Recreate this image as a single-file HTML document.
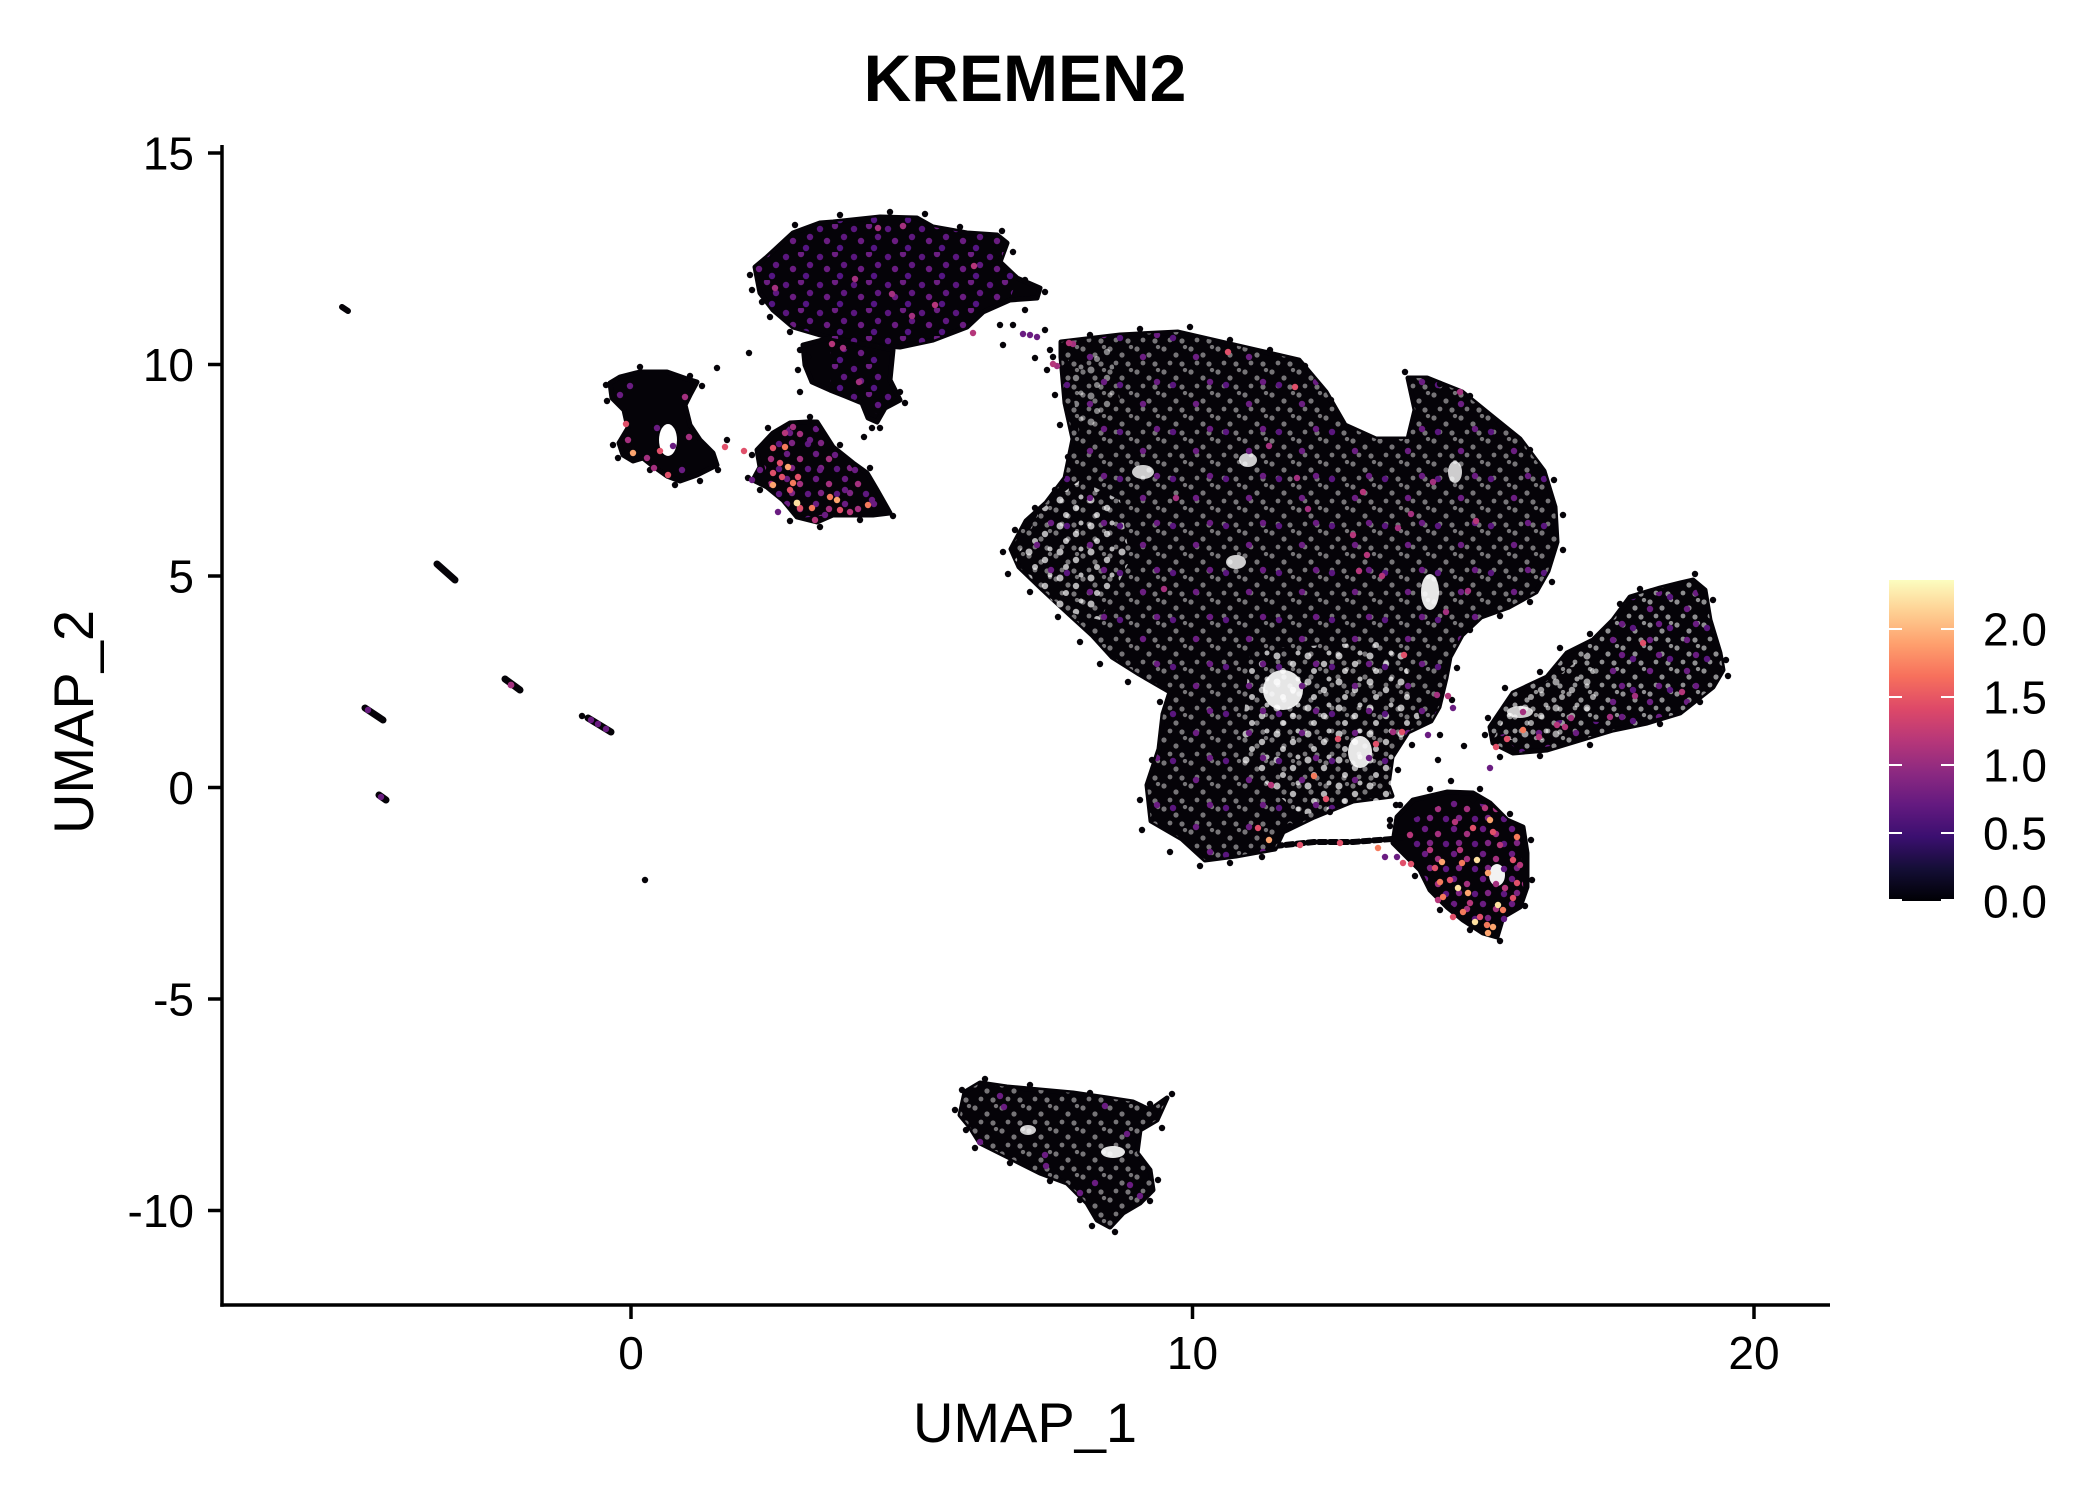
<!DOCTYPE html>
<html><head><meta charset="utf-8"><style>
html,body{margin:0;padding:0;background:#fff;}
svg{display:block;}
text{font-family:"Liberation Sans",Arial,sans-serif;fill:#000;}
</style></head><body>
<svg width="2100" height="1500" viewBox="0 0 2100 1500" xmlns="http://www.w3.org/2000/svg">
<defs>
<linearGradient id="mg" x1="0" y1="1" x2="0" y2="0">
<stop offset="0" stop-color="#000004"/><stop offset="0.1" stop-color="#140e36"/><stop offset="0.2" stop-color="#3b0f70"/><stop offset="0.3" stop-color="#641a80"/><stop offset="0.4" stop-color="#8c2981"/><stop offset="0.5" stop-color="#b73779"/><stop offset="0.6" stop-color="#de4968"/><stop offset="0.7" stop-color="#f7705c"/><stop offset="0.8" stop-color="#fe9f6d"/><stop offset="0.9" stop-color="#fecf92"/><stop offset="1" stop-color="#fcfdbf"/>
</linearGradient>
<pattern id="pTop" width="34" height="28" patternUnits="userSpaceOnUse">
<circle cx="4" cy="5" r="3.2" fill="#5a167e"/><circle cx="19" cy="2" r="3.2" fill="#6b1e81"/><circle cx="28" cy="13" r="3.2" fill="#5f187f"/><circle cx="11" cy="17" r="3.2" fill="#6a1c81"/><circle cx="24" cy="24" r="3.2" fill="#541582"/>
</pattern>
<pattern id="pBig" width="53" height="47" patternUnits="userSpaceOnUse">
<circle cx="7" cy="9" r="3.2" fill="#5a167e"/><circle cx="30" cy="28" r="3.2" fill="#6b1e81"/><circle cx="44" cy="6" r="3.2" fill="#6a1c81"/>
</pattern>
<pattern id="pArm" width="37" height="31" patternUnits="userSpaceOnUse">
<circle cx="5" cy="8" r="3.2" fill="#5a167e"/><circle cx="22" cy="20" r="3.2" fill="#6b1e81"/><circle cx="31" cy="4" r="3.2" fill="#6a1c81"/>
</pattern>
<pattern id="pPink" width="29" height="25" patternUnits="userSpaceOnUse">
<circle cx="4" cy="4" r="3.2" fill="#6a1c81"/><circle cx="17" cy="9" r="3.2" fill="#a3307e"/><circle cx="25" cy="19" r="3.2" fill="#5f187f"/><circle cx="9" cy="18" r="3.2" fill="#7d2482"/>
</pattern>
<pattern id="wsp" width="27" height="23" patternUnits="userSpaceOnUse">
<circle cx="3" cy="4" r="2.6" fill="#fff"/><circle cx="15" cy="10" r="2.6" fill="#fff"/><circle cx="24" cy="2" r="2.2" fill="#fff"/><circle cx="9" cy="18" r="2.4" fill="#fff"/><circle cx="21" cy="19" r="2.6" fill="#fff"/>
</pattern>
<pattern id="wsp2" width="31" height="26" patternUnits="userSpaceOnUse">
<circle cx="6" cy="6" r="3.5" fill="#fff"/><circle cx="22" cy="14" r="3.2" fill="#fff"/><circle cx="12" cy="21" r="3" fill="#fff"/><circle cx="27" cy="3" r="2.5" fill="#fff"/>
</pattern>
</defs>
<rect width="2100" height="1500" fill="#fff"/>

<text x="1025" y="101" font-size="66" font-weight="bold" text-anchor="middle">KREMEN2</text>

<g stroke="#050308" stroke-width="5" stroke-linejoin="round" fill="#050308">
<path id="big" d="M1061,342 L1120,335 L1178,332 L1256,350 L1299,360 L1326,392 L1345,425 L1376,439 L1408,439 L1415,410 L1408,378 L1427,378 L1462,392 L1489,414 L1520,439 L1544,471 L1555,507 L1557,542 L1548,571 L1536,592 L1509,607 L1481,617 L1462,635 L1450,657 L1446,678 L1439,707 L1431,721 L1408,732 L1392,757 L1388,785 L1392,796 L1353,801 L1314,817 L1283,832 L1275,849 L1236,856 L1205,860 L1182,839 L1151,821 L1147,785 L1159,749 L1163,714 L1170,692 L1139,674 L1112,657 L1092,635 L1069,614 L1042,589 L1019,567 L1011,549 L1026,521 L1046,503 L1065,478 L1073,439 L1065,403 L1061,357 Z"/>
<path id="arm" d="M1490,727 L1513,693 L1547,677 L1567,653 L1593,640 L1613,620 L1630,597 L1660,588 L1680,583 L1693,580 L1705,590 L1710,620 L1720,653 L1723,670 L1713,687 L1680,713 L1647,723 L1613,730 L1580,740 L1547,750 L1513,753 L1493,743 Z"/>
<path d="M1397,817 L1413,800 L1447,792 L1473,793 L1490,803 L1507,820 L1523,827 L1527,853 L1527,887 L1520,907 L1503,917 L1497,937 L1483,933 L1463,920 L1447,907 L1430,890 L1420,870 L1407,857 L1393,843 Z"/>
<path id="bot" d="M960,1115 L965,1092 L980,1083 L1007,1087 L1040,1090 L1073,1093 L1107,1098 L1133,1102 L1150,1110 L1167,1098 L1157,1120 L1140,1130 L1137,1153 L1150,1170 L1153,1190 L1140,1203 L1123,1213 L1110,1227 L1097,1220 L1087,1203 L1067,1183 L1040,1173 L1020,1163 L1000,1153 L980,1143 L970,1127 Z"/>
<path d="M755,267 L767,257 L793,233 L820,223 L833,222 L880,217 L917,218 L933,227 L967,233 L997,235 L1007,243 L1000,262 L1017,278 L1040,288 L1037,298 L1010,300 L983,312 L967,327 L933,340 L900,347 L870,345 L827,337 L793,327 L773,310 L760,293 Z"/>
<path d="M803,345 L830,338 L870,345 L893,350 L890,380 L900,400 L885,408 L877,422 L868,418 L862,403 L845,396 L830,390 L812,382 L805,365 Z"/>
<path d="M757,450 L773,433 L790,423 L807,422 L817,422 L833,447 L853,463 L867,473 L877,490 L890,513 L873,515 L833,515 L817,522 L797,517 L783,500 L767,487 L753,480 L760,467 Z"/>
<path d="M610,383 L620,377 L640,372 L667,372 L687,379 L697,382 L690,395 L685,405 L690,425 L700,440 L713,453 L717,465 L697,475 L680,481 L667,476 L653,466 L643,458 L633,461 L623,455 L619,443 L628,428 L624,410 L612,398 Z"/>
</g>
<polyline points="1275,846 1314,842 1353,842 1392,839 1415,835" fill="none" stroke="#050308" stroke-width="6" stroke-dasharray="7 4" stroke-linecap="round" stroke-linejoin="round"/>

<!-- texture -->
<use href="#big" fill="url(#wsp)" stroke="none" opacity="0.45"/>
<path d="M1015,560 L1040,510 L1080,480 L1120,500 L1130,560 L1100,620 L1060,610 Z" fill="url(#wsp2)" opacity="0.7"/>
<path d="M1250,650 L1400,640 L1420,720 L1390,800 L1300,815 L1240,760 Z" fill="url(#wsp2)" opacity="0.7"/>
<path d="M1068,360 L1110,345 L1120,400 L1080,440 Z" fill="url(#wsp2)" opacity="0.5"/>
<use href="#arm" fill="url(#wsp)" stroke="none" opacity="0.55"/>
<path d="M1493,740 L1515,695 L1560,675 L1590,650 L1600,700 L1560,740 Z" fill="url(#wsp2)" opacity="0.6"/>
<use href="#bot" fill="url(#wsp)" stroke="none" opacity="0.45"/>

<g fill="#fff">
<ellipse cx="1283" cy="690" rx="20" ry="20" opacity="0.9"/>
<ellipse cx="1430" cy="592" rx="9" ry="18" opacity="0.9"/>
<ellipse cx="1143" cy="472" rx="11" ry="7" opacity="0.8"/>
<ellipse cx="1248" cy="460" rx="9" ry="7" opacity="0.8"/>
<ellipse cx="1236" cy="562" rx="10" ry="7" opacity="0.8"/>
<ellipse cx="1360" cy="752" rx="12" ry="16" opacity="0.9"/>
<ellipse cx="1455" cy="472" rx="7" ry="11" opacity="0.8"/>
<ellipse cx="1520" cy="712" rx="13" ry="6" opacity="0.8"/>
<ellipse cx="1497" cy="875" rx="8" ry="11" opacity="0.95"/>
<ellipse cx="668" cy="440" rx="9" ry="16"/>
<ellipse cx="1113" cy="1152" rx="12" ry="6" opacity="0.9"/>
<ellipse cx="1028" cy="1130" rx="8" ry="5" opacity="0.8"/>
</g>

<!-- purple overlays -->
<path d="M755,267 L767,257 L793,233 L820,223 L833,222 L880,217 L917,218 L933,227 L967,233 L997,235 L1007,243 L1000,262 L1017,278 L1010,300 L983,312 L967,327 L933,340 L900,347 L870,345 L827,337 L793,327 L773,310 L760,293 Z" fill="url(#pTop)"/>
<path d="M830,350 L870,348 L890,380 L895,400 L878,415 L862,403 L845,396 L830,385 Z" fill="url(#pTop)"/>
<use href="#big" fill="url(#pBig)" stroke="none"/>
<path d="M1600,650 L1630,600 L1693,582 L1710,620 L1720,670 L1680,712 L1620,728 L1600,700 Z" fill="url(#pArm)"/>
<path d="M1500,735 L1560,720 L1600,722 L1580,740 L1520,752 Z" fill="url(#pArm)"/>
<path d="M762,455 L790,425 L815,424 L850,465 L885,512 L830,515 L800,518 L770,490 Z" fill="url(#pPink)"/>
<path d="M1410,820 L1450,800 L1490,805 L1520,830 L1524,900 L1500,930 L1470,920 L1430,888 L1412,850 Z" fill="url(#pPink)"/>

<!-- fragments -->
<g stroke="#050308" stroke-linecap="round" fill="none">
<line x1="342" y1="307" x2="348" y2="311" stroke-width="6"/>
<line x1="437" y1="564" x2="455" y2="580" stroke-width="7"/>
<line x1="505" y1="679" x2="520" y2="690" stroke-width="7"/>
<line x1="365" y1="708" x2="383" y2="720" stroke-width="7"/>
<line x1="588" y1="718" x2="611" y2="732" stroke-width="7"/>
<line x1="379" y1="795" x2="386" y2="800" stroke-width="7"/>
</g>
<!-- edge / stray black dots -->
<g fill="#050308">
<circle cx="582" cy="716" r="3.2"/><circle cx="645" cy="880" r="3.2"/>
<circle cx="717" cy="368" r="3.2"/><circle cx="749" cy="353" r="3.2"/><circle cx="727" cy="440" r="3.2"/><circle cx="808" cy="357" r="3.2"/><circle cx="800" cy="392" r="3.2"/><circle cx="872" cy="428" r="3.2"/><circle cx="864" cy="437" r="3.2"/>
<circle cx="1000" cy="325" r="3.2"/><circle cx="1013" cy="325" r="3.2"/><circle cx="1003" cy="345" r="3.2"/><circle cx="1035" cy="358" r="3.2"/><circle cx="1053" cy="357" r="3.2"/><circle cx="1045" cy="330" r="3.2"/><circle cx="1025" cy="310" r="3.2"/>
<circle cx="1473" cy="800" r="3.2"/><circle cx="1451" cy="781" r="3.2"/><circle cx="1464" cy="746" r="3.2"/><circle cx="1390" cy="820" r="3.2"/><circle cx="1438" cy="760" r="3.2"/>
<circle cx="1050" cy="350" r="3.2"/><circle cx="1047" cy="370" r="3.2"/><circle cx="1055" cy="395" r="3.2"/><circle cx="1060" cy="425" r="3.2"/><circle cx="1068" cy="457" r="3.2"/><circle cx="1055" cy="490" r="3.2"/><circle cx="1035" cy="508" r="3.2"/><circle cx="1015" cy="530" r="3.2"/><circle cx="1003" cy="552" r="3.2"/><circle cx="1008" cy="574" r="3.2"/><circle cx="1030" cy="592" r="3.2"/><circle cx="1058" cy="617" r="3.2"/><circle cx="1080" cy="642" r="3.2"/><circle cx="1100" cy="664" r="3.2"/><circle cx="1128" cy="682" r="3.2"/><circle cx="1160" cy="702" r="3.2"/><circle cx="1152" cy="760" r="3.2"/><circle cx="1140" cy="800" r="3.2"/><circle cx="1142" cy="830" r="3.2"/><circle cx="1170" cy="852" r="3.2"/><circle cx="1200" cy="866" r="3.2"/><circle cx="1230" cy="863" r="3.2"/><circle cx="1262" cy="857" r="3.2"/><circle cx="1290" cy="826" r="3.2"/><circle cx="1330" cy="812" r="3.2"/><circle cx="1396" cy="805" r="3.2"/><circle cx="1398" cy="770" r="3.2"/><circle cx="1412" cy="745" r="3.2"/><circle cx="1440" cy="735" r="3.2"/><circle cx="1452" cy="700" r="3.2"/><circle cx="1457" cy="668" r="3.2"/><circle cx="1470" cy="630" r="3.2"/><circle cx="1500" cy="616" r="3.2"/><circle cx="1530" cy="602" r="3.2"/><circle cx="1552" cy="582" r="3.2"/><circle cx="1563" cy="550" r="3.2"/><circle cx="1563" cy="515" r="3.2"/><circle cx="1554" cy="480" r="3.2"/><circle cx="1530" cy="450" r="3.2"/><circle cx="1500" cy="424" r="3.2"/><circle cx="1470" cy="396" r="3.2"/><circle cx="1440" cy="384" r="3.2"/><circle cx="1405" cy="372" r="3.2"/><circle cx="1385" cy="447" r="3.2"/><circle cx="1350" cy="434" r="3.2"/><circle cx="1331" cy="400" r="3.2"/><circle cx="1305" cy="366" r="3.2"/><circle cx="1270" cy="350" r="3.2"/><circle cx="1230" cy="340" r="3.2"/><circle cx="1190" cy="327" r="3.2"/><circle cx="1140" cy="329" r="3.2"/><circle cx="1090" cy="335" r="3.2"/>
<circle cx="750" cy="275" r="3.2"/><circle cx="752" cy="290" r="3.2"/><circle cx="762" cy="302" r="3.2"/><circle cx="770" cy="317" r="3.2"/><circle cx="790" cy="332" r="3.2"/><circle cx="795" cy="225" r="3.2"/><circle cx="840" cy="215" r="3.2"/><circle cx="890" cy="212" r="3.2"/><circle cx="925" cy="214" r="3.2"/><circle cx="960" cy="227" r="3.2"/><circle cx="1002" cy="231" r="3.2"/><circle cx="1013" cy="252" r="3.2"/><circle cx="1025" cy="280" r="3.2"/><circle cx="1045" cy="292" r="3.2"/><circle cx="800" cy="350" r="3.2"/><circle cx="798" cy="370" r="3.2"/><circle cx="900" cy="392" r="3.2"/><circle cx="905" cy="403" r="3.2"/><circle cx="880" cy="428" r="3.2"/>
<circle cx="1485" cy="735" r="3.2"/><circle cx="1488" cy="718" r="3.2"/><circle cx="1505" cy="688" r="3.2"/><circle cx="1540" cy="672" r="3.2"/><circle cx="1560" cy="648" r="3.2"/><circle cx="1590" cy="634" r="3.2"/><circle cx="1620" cy="604" r="3.2"/><circle cx="1640" cy="589" r="3.2"/><circle cx="1695" cy="574" r="3.2"/><circle cx="1713" cy="600" r="3.2"/><circle cx="1726" cy="660" r="3.2"/><circle cx="1728" cy="676" r="3.2"/><circle cx="1700" cy="702" r="3.2"/><circle cx="1660" cy="724" r="3.2"/><circle cx="1590" cy="745" r="3.2"/><circle cx="1540" cy="756" r="3.2"/><circle cx="1500" cy="757" r="3.2"/>
<circle cx="1390" cy="826" r="3.2"/><circle cx="1400" cy="805" r="3.2"/><circle cx="1430" cy="789" r="3.2"/><circle cx="1480" cy="789" r="3.2"/><circle cx="1510" cy="814" r="3.2"/><circle cx="1531" cy="840" r="3.2"/><circle cx="1532" cy="880" r="3.2"/><circle cx="1525" cy="906" r="3.2"/><circle cx="1500" cy="941" r="3.2"/><circle cx="1470" cy="930" r="3.2"/><circle cx="1440" cy="910" r="3.2"/><circle cx="1415" cy="876" r="3.2"/>
<circle cx="955" cy="1110" r="3.2"/><circle cx="962" cy="1090" r="3.2"/><circle cx="985" cy="1079" r="3.2"/><circle cx="1030" cy="1085" r="3.2"/><circle cx="1090" cy="1093" r="3.2"/><circle cx="1150" cy="1104" r="3.2"/><circle cx="1172" cy="1094" r="3.2"/><circle cx="1162" cy="1128" r="3.2"/><circle cx="1158" cy="1180" r="3.2"/><circle cx="1150" cy="1201" r="3.2"/><circle cx="1115" cy="1232" r="3.2"/><circle cx="1092" cy="1226" r="3.2"/><circle cx="1080" cy="1200" r="3.2"/><circle cx="1050" cy="1181" r="3.2"/><circle cx="1010" cy="1163" r="3.2"/><circle cx="975" cy="1148" r="3.2"/><circle cx="966" cy="1130" r="3.2"/>
<circle cx="752" cy="455" r="3.2"/><circle cx="768" cy="428" r="3.2"/><circle cx="810" cy="417" r="3.2"/><circle cx="840" cy="445" r="3.2"/><circle cx="870" cy="468" r="3.2"/><circle cx="893" cy="516" r="3.2"/><circle cx="860" cy="520" r="3.2"/><circle cx="820" cy="527" r="3.2"/><circle cx="790" cy="521" r="3.2"/><circle cx="760" cy="490" r="3.2"/><circle cx="748" cy="478" r="3.2"/>
<circle cx="606" cy="385" r="3.2"/><circle cx="640" cy="367" r="3.2"/><circle cx="690" cy="376" r="3.2"/><circle cx="702" cy="386" r="3.2"/><circle cx="718" cy="470" r="3.2"/><circle cx="700" cy="481" r="3.2"/><circle cx="675" cy="485" r="3.2"/><circle cx="650" cy="470" r="3.2"/><circle cx="618" cy="458" r="3.2"/><circle cx="613" cy="445" r="3.2"/><circle cx="607" cy="401" r="3.2"/>
</g>
<g fill="#6a1c81">
<circle cx="368" cy="710" r="3.2"/><circle cx="591" cy="720" r="3.2"/><circle cx="598" cy="724" r="3.2"/><circle cx="606" cy="729" r="3.2"/><circle cx="381" cy="797" r="3.2"/>
<circle cx="1023" cy="334" r="3.2"/><circle cx="1030" cy="335" r="3.2"/><circle cx="1037" cy="337" r="3.2"/>
<circle cx="620" cy="395" r="3.2"/><circle cx="657" cy="428" r="3.2"/><circle cx="682" cy="470" r="3.2"/><circle cx="673" cy="446" r="3.2"/><circle cx="630" cy="386" r="3.2"/>
<circle cx="1000" cy="1096" r="3.2"/><circle cx="1004" cy="1107" r="3.2"/><circle cx="980" cy="1142" r="3.2"/><circle cx="1045" cy="1155" r="3.2"/><circle cx="1046" cy="1166" r="3.2"/><circle cx="1105" cy="1106" r="3.2"/><circle cx="1127" cy="1134" r="3.2"/><circle cx="1095" cy="1183" r="3.2"/><circle cx="1080" cy="1193" r="3.2"/><circle cx="1130" cy="1185" r="3.2"/><circle cx="1140" cy="1196" r="3.2"/>
<circle cx="1453" cy="708" r="3.2"/><circle cx="1490" cy="768" r="3.2"/><circle cx="1428" cy="735" r="3.2"/><circle cx="1385" cy="857" r="3.2"/><circle cx="1397" cy="857" r="3.2"/>
<circle cx="790" cy="433" r="3.2"/><circle cx="810" cy="440" r="3.2"/><circle cx="835" cy="455" r="3.2"/><circle cx="855" cy="470" r="3.2"/><circle cx="820" cy="470" r="3.2"/><circle cx="845" cy="490" r="3.2"/><circle cx="872" cy="500" r="3.2"/><circle cx="760" cy="470" r="3.2"/><circle cx="752" cy="480" r="3.2"/><circle cx="778" cy="512" r="3.2"/><circle cx="825" cy="515" r="3.2"/>
</g>
<g fill="#a3307e">
<circle cx="511" cy="685" r="3.4"/><circle cx="628" cy="440" r="3.2"/><circle cx="654" cy="468" r="3.2"/><circle cx="685" cy="397" r="3.2"/><circle cx="689" cy="437" r="3.2"/><circle cx="647" cy="458" r="3.2"/>
<circle cx="878" cy="228" r="3.2"/><circle cx="903" cy="226" r="3.2"/><circle cx="855" cy="279" r="3.2"/><circle cx="775" cy="288" r="3.2"/><circle cx="892" cy="294" r="3.2"/><circle cx="912" cy="316" r="3.2"/><circle cx="843" cy="348" r="3.2"/><circle cx="859" cy="382" r="3.2"/>
<circle cx="1269" cy="446" r="3.2"/><circle cx="1297" cy="478" r="3.2"/><circle cx="1176" cy="498" r="3.2"/><circle cx="1308" cy="509" r="3.2"/><circle cx="1398" cy="528" r="3.2"/><circle cx="1411" cy="514" r="3.2"/><circle cx="1433" cy="482" r="3.2"/><circle cx="1468" cy="591" r="3.2"/><circle cx="1446" cy="612" r="3.2"/><circle cx="1164" cy="589" r="3.2"/><circle cx="1073" cy="344" r="3.2"/><circle cx="1057" cy="366" r="3.2"/><circle cx="1460" cy="392" r="3.2"/>
<circle cx="1635" cy="696" r="3.2"/><circle cx="1523" cy="712" r="3.2"/><circle cx="1571" cy="718" r="3.2"/><circle cx="1610" cy="717" r="3.2"/><circle cx="1437" cy="695" r="3.2"/><circle cx="1393" cy="732" r="3.2"/><circle cx="793" cy="427" r="3.2"/>
</g>
<g fill="#b5367a">
<circle cx="935" cy="305" r="3.2"/><circle cx="974" cy="266" r="3.2"/><circle cx="973" cy="333" r="3.2"/><circle cx="832" cy="344" r="3.2"/><circle cx="1053" cy="364" r="3.2"/><circle cx="1069" cy="343" r="3.2"/>
<circle cx="1363" cy="492" r="3.2"/><circle cx="1353" cy="535" r="3.2"/><circle cx="1367" cy="555" r="3.2"/><circle cx="1359" cy="571" r="3.2"/><circle cx="1382" cy="576" r="3.2"/><circle cx="1476" cy="521" r="3.2"/><circle cx="1448" cy="696" r="3.2"/><circle cx="1271" cy="785" r="3.2"/>
<circle cx="1682" cy="692" r="3.2"/><circle cx="1557" cy="725" r="3.2"/><circle cx="1565" cy="727" r="3.2"/><circle cx="1539" cy="737" r="3.2"/>
<circle cx="785" cy="433" r="3.2"/><circle cx="815" cy="520" r="3.2"/><circle cx="850" cy="512" r="3.2"/>
<circle cx="1430" cy="850" r="3.2"/><circle cx="1460" cy="850" r="3.2"/><circle cx="1500" cy="845" r="3.2"/><circle cx="1520" cy="865" r="3.2"/><circle cx="1505" cy="888" r="3.2"/><circle cx="1470" cy="903" r="3.2"/><circle cx="1438" cy="900" r="3.2"/><circle cx="1455" cy="822" r="3.2"/><circle cx="1485" cy="808" r="3.2"/><circle cx="1410" cy="835" r="3.2"/>
</g>
<g fill="#e0506a">
<circle cx="626" cy="424" r="3.2"/><circle cx="660" cy="451" r="3.2"/><circle cx="668" cy="475" r="3.2"/><circle cx="725" cy="447" r="3.2"/><circle cx="744" cy="451" r="3.2"/>
<circle cx="1228" cy="352" r="3.2"/><circle cx="1295" cy="387" r="3.2"/><circle cx="1404" cy="655" r="3.2"/><circle cx="1402" cy="732" r="3.2"/><circle cx="1376" cy="744" r="3.2"/><circle cx="1338" cy="739" r="3.2"/><circle cx="1326" cy="799" r="3.2"/><circle cx="1258" cy="828" r="3.2"/><circle cx="1411" cy="864" r="3.2"/><circle cx="1340" cy="843" r="3.2"/><circle cx="1300" cy="845" r="3.2"/>
<circle cx="1643" cy="643" r="3.2"/><circle cx="1507" cy="739" r="3.2"/><circle cx="1496" cy="747" r="3.2"/><circle cx="1403" cy="863" r="3.2"/>
<circle cx="773" cy="448" r="3.2"/><circle cx="773" cy="473" r="3.2"/><circle cx="782" cy="477" r="3.2"/><circle cx="798" cy="477" r="3.2"/><circle cx="790" cy="490" r="3.2"/><circle cx="800" cy="508" r="3.2"/><circle cx="840" cy="510" r="3.2"/><circle cx="780" cy="463" r="3.2"/>
<circle cx="1473" cy="828" r="3.2"/><circle cx="1450" cy="880" r="3.2"/><circle cx="1480" cy="917" r="3.2"/><circle cx="1453" cy="917" r="3.2"/><circle cx="1513" cy="898" r="3.2"/><circle cx="1517" cy="883" r="3.2"/><circle cx="1513" cy="860" r="3.2"/><circle cx="1493" cy="832" r="3.2"/><circle cx="1435" cy="868" r="3.2"/>
</g>
<g fill="#f47a5c">
<circle cx="1314" cy="776" r="3.2"/><circle cx="1378" cy="848" r="3.2"/><circle cx="1523" cy="730" r="3.2"/>
<circle cx="785" cy="447" r="3.2"/><circle cx="793" cy="483" r="3.2"/><circle cx="812" cy="508" r="3.2"/><circle cx="830" cy="497" r="3.2"/><circle cx="868" cy="505" r="3.2"/>
<circle cx="1517" cy="837" r="3.2"/><circle cx="1462" cy="863" r="3.2"/><circle cx="1440" cy="882" r="3.2"/><circle cx="1443" cy="897" r="3.2"/><circle cx="1463" cy="912" r="3.2"/><circle cx="1503" cy="910" r="3.2"/><circle cx="1487" cy="925" r="3.2"/>
</g>
<g fill="#fca46e">
<circle cx="633" cy="453" r="3.2"/><circle cx="788" cy="467" r="3.2"/><circle cx="773" cy="485" r="3.2"/><circle cx="837" cy="500" r="3.2"/><circle cx="1269" cy="840" r="3.2"/>
<circle cx="1490" cy="820" r="3.2"/><circle cx="1442" cy="862" r="3.2"/><circle cx="1488" cy="873" r="3.2"/><circle cx="1468" cy="893" r="3.2"/><circle cx="1493" cy="927" r="3.2"/><circle cx="1488" cy="933" r="3.2"/>
</g>
<g fill="#fde0a0">
<circle cx="797" cy="503" r="3.4"/><circle cx="1477" cy="860" r="3.2"/><circle cx="1458" cy="888" r="3.2"/><circle cx="1498" cy="905" r="3.2"/><circle cx="1475" cy="922" r="3.2"/>
</g>

<!-- Axes -->
<g stroke="#000" stroke-width="3.5" fill="none">
<line x1="222" y1="145" x2="222" y2="1306.75"/>
<line x1="220.25" y1="1305" x2="1830" y2="1305"/>
<line x1="208" y1="153" x2="222" y2="153"/>
<line x1="208" y1="364.5" x2="222" y2="364.5"/>
<line x1="208" y1="576" x2="222" y2="576"/>
<line x1="208" y1="787.5" x2="222" y2="787.5"/>
<line x1="208" y1="999" x2="222" y2="999"/>
<line x1="208" y1="1210.5" x2="222" y2="1210.5"/>
<line x1="631" y1="1305" x2="631" y2="1319"/>
<line x1="1192.5" y1="1305" x2="1192.5" y2="1319"/>
<line x1="1754" y1="1305" x2="1754" y2="1319"/>
</g>
<g font-size="46" text-anchor="end">
<text x="194" y="169.5">15</text>
<text x="194" y="381">10</text>
<text x="194" y="592.5">5</text>
<text x="194" y="804">0</text>
<text x="194" y="1015.5">-5</text>
<text x="194" y="1227">-10</text>
</g>
<g font-size="46" text-anchor="middle">
<text x="631" y="1369">0</text>
<text x="1192.5" y="1369">10</text>
<text x="1754" y="1369">20</text>
</g>
<text x="1025" y="1442" font-size="56" text-anchor="middle">UMAP_1</text>
<text transform="translate(93,722) rotate(-90)" font-size="56" text-anchor="middle">UMAP_2</text>

<!-- Legend -->
<rect x="1889" y="580" width="65" height="321" fill="url(#mg)"/>
<g stroke="#fff" stroke-width="2">
<line x1="1889" y1="900" x2="1902" y2="900"/><line x1="1941" y1="900" x2="1954" y2="900"/>
<line x1="1889" y1="833" x2="1902" y2="833"/><line x1="1941" y1="833" x2="1954" y2="833"/>
<line x1="1889" y1="765" x2="1902" y2="765"/><line x1="1941" y1="765" x2="1954" y2="765"/>
<line x1="1889" y1="697" x2="1902" y2="697"/><line x1="1941" y1="697" x2="1954" y2="697"/>
<line x1="1889" y1="629" x2="1902" y2="629"/><line x1="1941" y1="629" x2="1954" y2="629"/>
</g>
<g font-size="46">
<text x="1983" y="917.5">0.0</text>
<text x="1983" y="849.5">0.5</text>
<text x="1983" y="781.5">1.0</text>
<text x="1983" y="713.5">1.5</text>
<text x="1983" y="645.5">2.0</text>
</g>
</svg>
</body></html>
